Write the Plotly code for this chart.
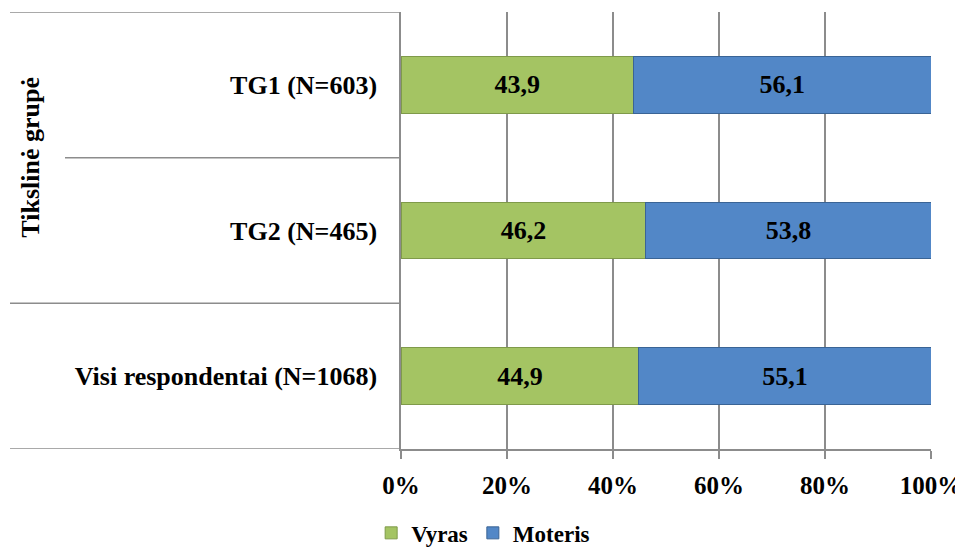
import plotly.graph_objects as go

categories = ["Visi respondentai (N=1068)", "TG2 (N=465)", "TG1 (N=603)"]
vyras = [44.9, 46.2, 43.9]
moteris = [55.1, 53.8, 56.1]
x_ticks = [0, 20, 40, 60, 80, 100]
x_ticktext = ["0%", "20%", "40%", "60%", "80%", "100%"]
group_title = "Tikslinė grupė"

FONT = "Liberation Serif"
GREEN = "#A4C463"
BLUE = "#5287C7"
GRID = "#8C8C8C"

# page body has an 8px margin; figure coords = page coords - 8
PL, PR, PT, PB = 393, 923, 4, 441
W, H = 955, 540

def fmt(v):
    return f"{v:.1f}".replace(".", ",")

fig = go.Figure()
fig.add_trace(go.Bar(
    y=categories, x=vyras, name="Vyras", orientation="h",
    marker=dict(color=GREEN, line=dict(color="#7F9A4A", width=1)),
    text=[fmt(v) for v in vyras], textposition="inside", insidetextanchor="middle",
    textfont=dict(family=FONT, size=26, color="black", weight="bold"),
    width=0.39,
))
fig.add_trace(go.Bar(
    y=categories, x=moteris, name="Moteris", orientation="h",
    marker=dict(color=BLUE, line=dict(color="#3A6495", width=1)),
    text=[fmt(v) for v in moteris], textposition="inside", insidetextanchor="middle",
    textfont=dict(family=FONT, size=26, color="black", weight="bold"),
    width=0.39,
))

# category-table lines on the left
shapes = []
for yv, x0 in [(2.5, 10), (1.5, 65), (0.5, 10), (-0.5, 10)]:
    shapes.append(dict(type="line", xref="paper", yref="y",
                       x0=(x0 - 401) / 530, x1=0, y0=yv, y1=yv,
                       line=dict(color=GRID, width=1.5)))
fig.update_layout(shapes=shapes)

fig.add_annotation(text="<b>" + group_title + "</b>", xref="paper", yref="y",
                   x=(31 - 401) / 530, y=1.5, textangle=-90, showarrow=False,
                   font=dict(family=FONT, size=26, color="black"),
                   xanchor="center", yanchor="middle")

fig.update_layout(
    barmode="stack",
    width=W, height=H,
    margin=dict(l=PL, r=W - PR, t=PT, b=H - PB, autoexpand=False),
    paper_bgcolor="white", plot_bgcolor="white",
    font=dict(family=FONT, size=20, color="black"),
    showlegend=True,
    legend=dict(orientation="h", x=0.155, xanchor="center", y=-0.192, yanchor="middle",
                font=dict(family=FONT, size=23, color="black", weight="bold"),
                itemwidth=30, traceorder="normal"),
    xaxis=dict(range=[0, 100], tickvals=x_ticks, ticktext=x_ticktext,
               showgrid=True, gridcolor=GRID, gridwidth=1.5,
               showline=True, linecolor=GRID, linewidth=1.5,
               ticks="outside", ticklen=8, tickcolor=GRID, tickwidth=1.5,
               ticklabelstandoff=5, ticklabeloverflow="allow",
               tickfont=dict(family=FONT, size=25, color="black", weight="bold"),
               zeroline=False, fixedrange=True),
    yaxis=dict(categoryorder="array", categoryarray=categories, range=[-0.5, 2.5],
               showline=True, linecolor=GRID, linewidth=1.5,
               ticks="", ticklabelstandoff=17,
               tickfont=dict(family=FONT, size=26, color="black", weight="bold"),
               showgrid=False, zeroline=False, fixedrange=True),
)

fig.write_html("out.html")
